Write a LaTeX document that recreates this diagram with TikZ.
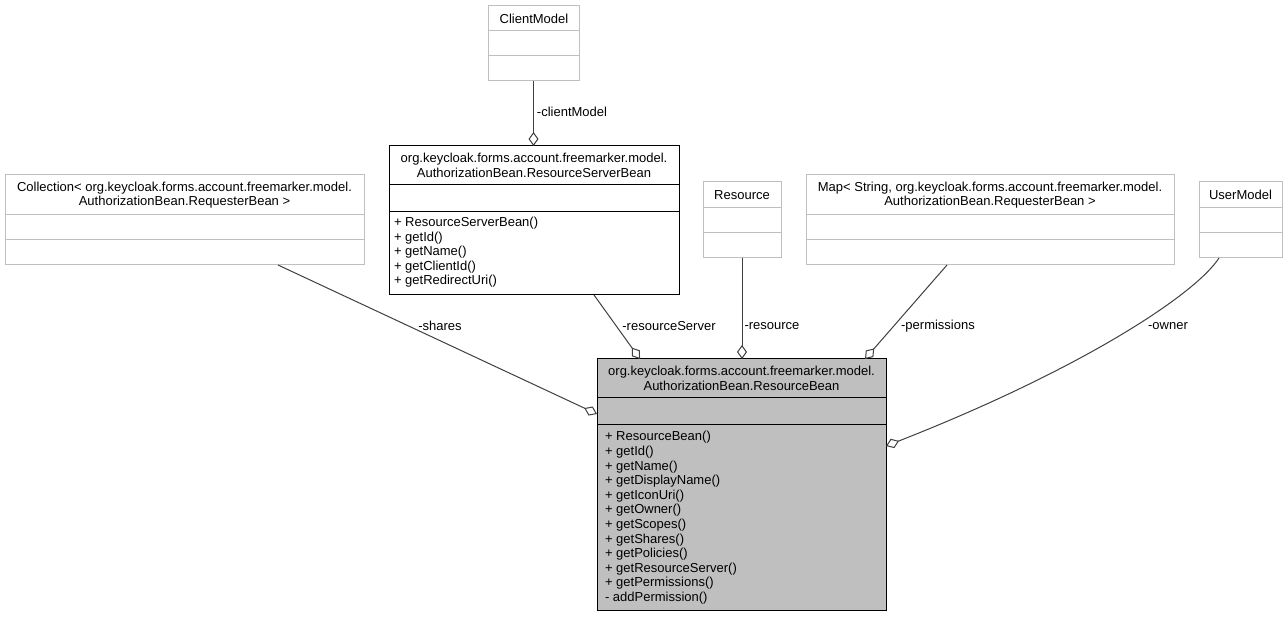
\documentclass[tikz,border=0pt]{standalone}
\usepackage{fontspec}
\setmainfont{Liberation Sans}
\usetikzlibrary{arrows.meta}
\definecolor{extgray}{HTML}{BFBFBF}
\definecolor{edgegray}{HTML}{404040}
\definecolor{mainfill}{HTML}{BFBFBF}
\begin{document}
\begin{tikzpicture}[x=1pt,y=-1pt,
  every node/.style={font=\fontsize{13}{14.6}\selectfont, inner sep=0pt, outer sep=0pt},
  extbox/.style={draw=extgray, fill=white, line width=1pt, anchor=north west},
  mainbox/.style={draw=black, fill=mainfill, line width=1pt, anchor=north west},
  docbox/.style={draw=black, fill=white, line width=1pt, anchor=north west},
  extsep/.style={draw=extgray, line width=1pt},
  mainsep/.style={draw=black, line width=1pt},
  hdr/.style={align=center},
  mlist/.style={anchor=north west, align=left},
  lbl/.style={},
  agg/.style={draw=edgegray, line width=1pt, -{Diamond[length=14pt,width=10pt,fill=white,line width=1pt]}}
]
\useasboundingbox (0,0) rectangle (1288,617);
\fill[white] (0,0) rectangle (1288,617);

% ClientModel
\node[extbox, minimum width=91pt, minimum height=75pt] (cm) at (488,6) {};
\draw[extsep] (cm.north west) ++(0,25) -- ++(91,0);
\draw[extsep] (cm.north west) ++(0,50) -- ++(91,0);
\node (cmh) at (534,18.5) {ClientModel};

% ResourceServerBean
\node[docbox, minimum width=290pt, minimum height=149pt] (rsb) at (389,146) {};
\draw[mainsep] (rsb.north west) ++(0,39) -- ++(290,0);
\draw[mainsep] (rsb.north west) ++(0,66) -- ++(290,0);
\node[hdr] (rsbh) at (534,165.5) {org.keycloak.forms.account.freemarker.model.\\AuthorizationBean.ResourceServerBean};
\node[mlist] (rsbm) at (394,217) {+ ResourceServerBean()\\+ getId()\\+ getName()\\+ getClientId()\\+ getRedirectUri()};

% Collection
\node[extbox, minimum width=359pt, minimum height=90pt] (col) at (5,175) {};
\draw[extsep] (col.north west) ++(0,40) -- ++(359,0);
\draw[extsep] (col.north west) ++(0,65) -- ++(359,0);
\node[hdr] (colh) at (184.5,195) {Collection< org.keycloak.forms.account.freemarker.model.\\AuthorizationBean.RequesterBean >};

% Resource
\node[extbox, minimum width=78pt, minimum height=76pt] (res) at (703,182) {};
\draw[extsep] (res.north west) ++(0,26) -- ++(78,0);
\draw[extsep] (res.north west) ++(0,51) -- ++(78,0);
\node (resh) at (742,195) {Resource};

% Map
\node[extbox, minimum width=368pt, minimum height=90pt] (map) at (806,175) {};
\draw[extsep] (map.north west) ++(0,40) -- ++(368,0);
\draw[extsep] (map.north west) ++(0,65) -- ++(368,0);
\node[hdr] (maph) at (990,195) {Map< String, org.keycloak.forms.account.freemarker.model.\\AuthorizationBean.RequesterBean >};

% UserModel
\node[extbox, minimum width=83pt, minimum height=76pt] (um) at (1199,182) {};
\draw[extsep] (um.north west) ++(0,26) -- ++(83,0);
\draw[extsep] (um.north west) ++(0,51) -- ++(83,0);
\node (umh) at (1240.5,195) {UserModel};

% ResourceBean
\node[mainbox, minimum width=289pt, minimum height=251pt] (rb) at (597,359) {};
\draw[mainsep] (rb.north west) ++(0,39) -- ++(289,0);
\draw[mainsep] (rb.north west) ++(0,66) -- ++(289,0);
\node[hdr] (rbh) at (741.5,378.5) {org.keycloak.forms.account.freemarker.model.\\AuthorizationBean.ResourceBean};
\node[mlist] (rbm) at (605,431.5) {+ ResourceBean()\\+ getId()\\+ getName()\\+ getDisplayName()\\+ getIconUri()\\+ getOwner()\\+ getScopes()\\+ getShares()\\+ getPolicies()\\+ getResourceServer()\\+ getPermissions()\\- addPermission()};

% connectors
\draw[agg] (cm.south) -- (cm.south |- rsb.north);
\draw[agg] ([xshift=273pt]col.south west) -- ([yshift=-55pt]rb.north west);
\draw[agg] ([xshift=205pt]rsb.south west) -- ([xshift=43pt]rb.north west);
\draw[agg] (res.south) -- (res.south |- rb.north);
\draw[agg] ([xshift=141pt]map.south west) -- ([xshift=268pt]rb.north west);
\draw[agg] ([xshift=20pt]um.south west) .. controls (1195,295) and (1080,370) .. ([yshift=-87pt]rb.north east);

% labels
\node[lbl] (lcm) at (572,112) {-clientModel};
\node[lbl] (lsh) at (440,326) {-shares};
\node[lbl] (lrs) at (669,326) {-resourceServer};
\node[lbl] (lre) at (772,326) {-resource};
\node[lbl] (lpe) at (938,326) {-permissions};
\node[lbl] (low) at (1168,326) {-owner};
\end{tikzpicture}
\end{document}
